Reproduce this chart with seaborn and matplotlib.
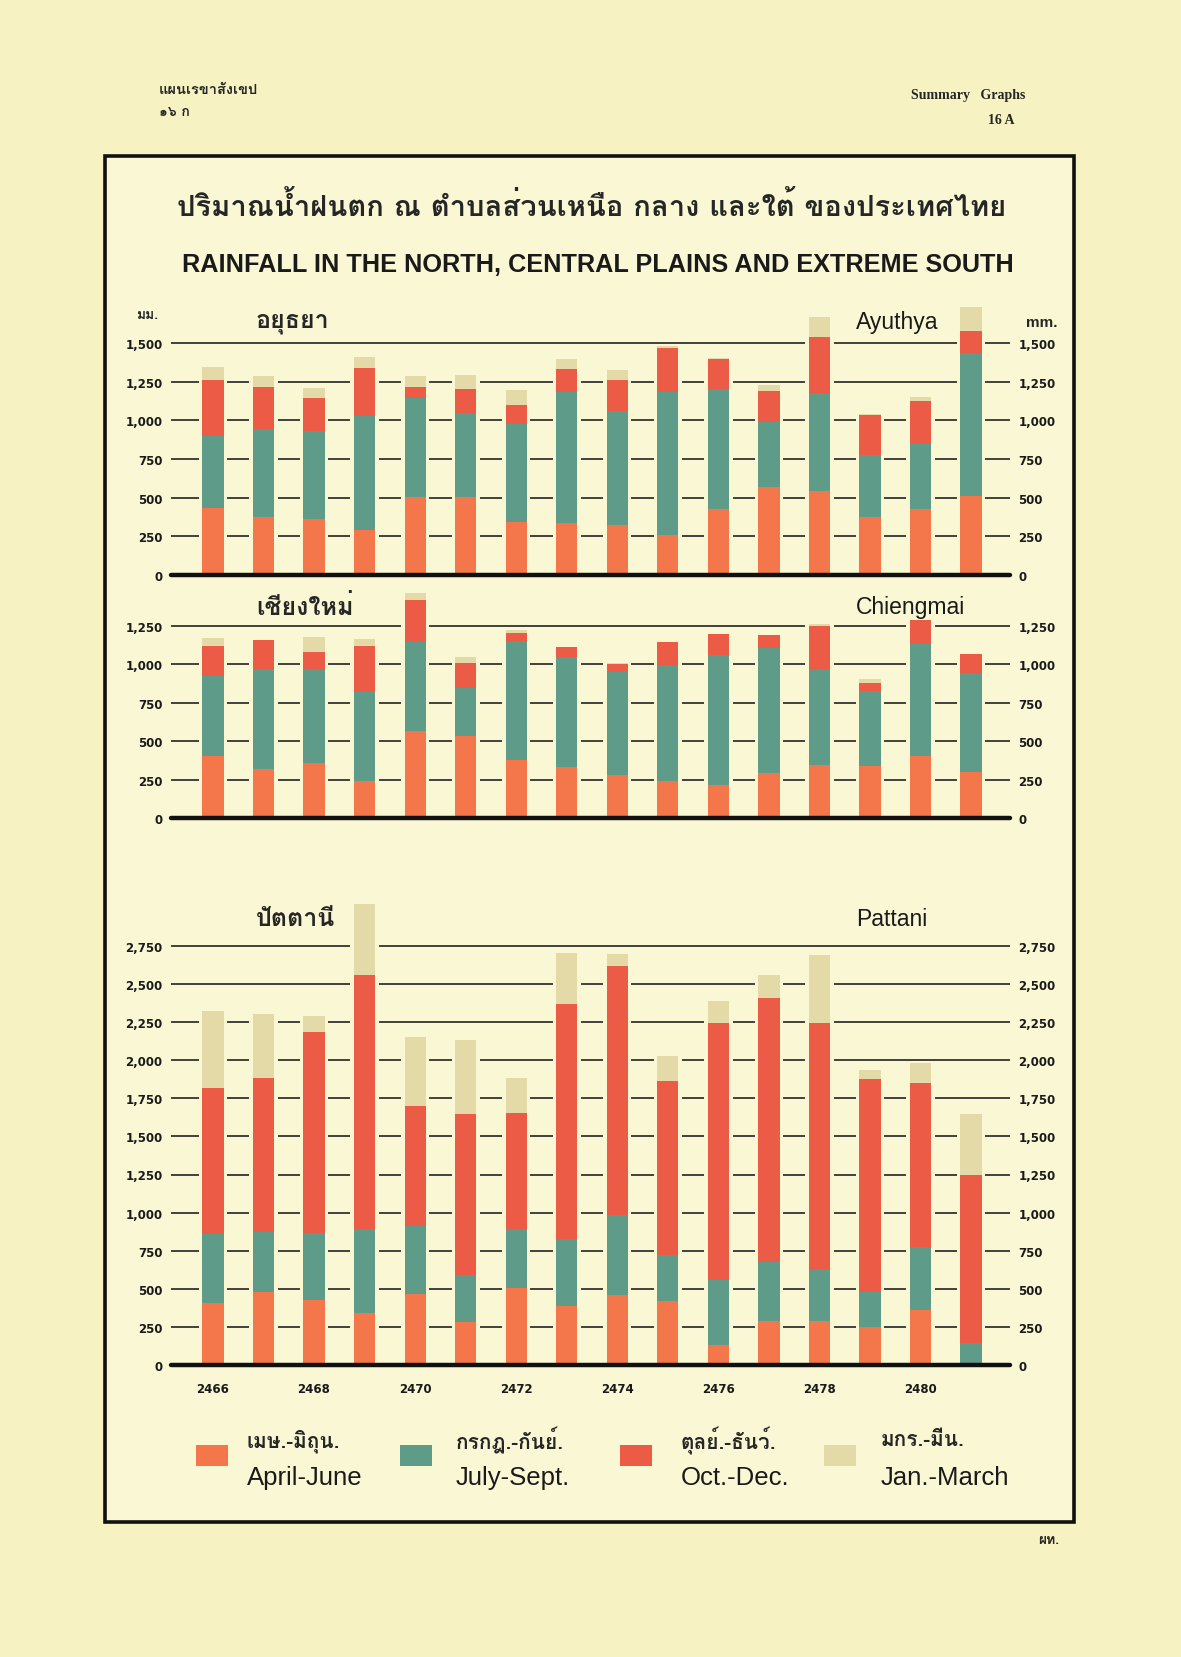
import numpy as np
import matplotlib
matplotlib.use('Agg')
import matplotlib.pyplot as plt
import seaborn as sns
from matplotlib import font_manager
from matplotlib.ft2font import FT2Font
from matplotlib.patches import Rectangle

# ---- data (mm of rain per season) ----
years = [str(y) for y in range(2466, 2482)]
year_labels = [y if i % 2 == 0 else '' for i, y in enumerate(years)]

season_th = ['เมษ.-มิถุน.', 'กรกฎ.-กันย์.', 'ตุลย์.-ธันว์.', 'มกร.-มีน.']
season_en = ['April-June', 'July-Sept.', 'Oct.-Dec.', 'Jan.-March']
season_colors = ['#F3774A', '#5E9B88', '#EC5B45', '#E4DAA8']

ayuthya_apr_jun = [430, 376, 359, 294, 501, 505, 340, 333, 320, 261, 428, 568, 546, 378, 428, 510]
ayuthya_jul_sep = [468, 570, 569, 733, 642, 544, 633, 849, 739, 923, 773, 421, 631, 400, 417, 926]
ayuthya_oct_dec = [363, 272, 215, 310, 75, 154, 127, 150, 201, 285, 194, 199, 363, 259, 280, 141]
ayuthya_jan_mar = [86, 71, 65, 71, 71, 91, 99, 65, 68, 13, 5, 39, 130, 3, 26, 157]

chiengmai_apr_jun = [402, 320, 357, 240, 565, 536, 379, 331, 283, 243, 217, 293, 348, 341, 402, 298]
chiengmai_jul_sep = [524, 649, 612, 578, 581, 308, 774, 718, 667, 753, 844, 816, 619, 485, 733, 648]
chiengmai_oct_dec = [194, 190, 113, 302, 271, 162, 54, 65, 50, 152, 135, 80, 283, 50, 154, 124]
chiengmai_jan_mar = [55, 0, 99, 48, 50, 45, 18, 0, 11, 0, 0, 0, 11, 31, 0, 0]

pattani_apr_jun = [404, 476, 428, 338, 465, 279, 502, 389, 461, 421, 131, 290, 286, 247, 360, 0]
pattani_jul_sep = [456, 396, 440, 552, 446, 314, 388, 441, 523, 300, 430, 383, 344, 233, 414, 142]
pattani_oct_dec = [960, 1009, 1317, 1667, 788, 1051, 765, 1537, 1632, 1142, 1685, 1738, 1614, 1398, 1076, 1106]
pattani_jan_mar = [503, 425, 105, 467, 456, 489, 226, 339, 84, 164, 143, 151, 449, 55, 131, 400]

W, H = 1181, 1658
page_bg = '#F7F2C2'
frame_bg = '#FAF7D4'


def find_thai_font():
    # first installed family that actually has Thai glyphs
    for f in font_manager.fontManager.ttflist:
        try:
            if 0x0E01 in FT2Font(f.fname).get_charmap():
                return f.name
        except Exception:
            pass
    return 'DejaVu Sans'


sns.set_theme(style='white')
thai = find_thai_font()
plt.rcParams['font.family'] = ['DejaVu Sans', thai]
TH = [thai, 'DejaVu Sans']
EN = ['Liberation Sans', 'DejaVu Sans']


def box(l, t, r, b):
    return [l / W, 1 - b / H, (r - l) / W, (b - t) / H]


def ftext(x, y, s, **kw):
    fig.text(x / W, 1 - y / H, s, **kw)


def draw_panel(ax, parts, ymax, top_tick, show_years=False):
    cum = np.cumsum(np.array(parts), axis=0)
    # light halo so the grid lines break around each bar, like the print
    sns.barplot(x=years, y=cum[-1] + 6, color=frame_bg, width=0.56, saturation=1,
                errorbar=None, ax=ax, zorder=1.5, linewidth=0)
    for i in range(3, -1, -1):
        sns.barplot(x=years, y=cum[i], color=season_colors[i], width=0.42, saturation=1,
                    errorbar=None, ax=ax, zorder=2, linewidth=0)
    ax.set_facecolor('none')
    ax.set_xlim(-0.83, 15.77)
    ax.set_ylim(0, ymax)
    ticks = list(range(0, top_tick + 1, 250))
    ax.set_yticks(ticks)
    ax.set_yticklabels([f'{t:,}' for t in ticks], fontsize=8.5, fontweight='bold', color='#1a1a1a')
    ax.tick_params(axis='y', left=False, right=False, labelleft=True, labelright=True,
                   length=0, pad=6)
    ax.yaxis.grid(True, color='#222222', lw=1.2)
    ax.xaxis.grid(False)
    ax.set_axisbelow(True)
    ax.axhline(0, color='#111111', lw=3.2, zorder=5, clip_on=False)
    for s in ax.spines.values():
        s.set_visible(False)
    ax.set_xlabel('')
    ax.set_ylabel('')
    if show_years:
        ax.set_xticks(range(len(years)))
        ax.set_xticklabels(year_labels, fontsize=8.5, fontweight='bold', color='#1a1a1a')
        ax.tick_params(axis='x', bottom=False, length=0, pad=12)
    else:
        ax.set_xticks([])


fig = plt.figure(figsize=(W / 100, H / 100), dpi=100, facecolor=page_bg)

# frame, kept under the axes
fig.patches.append(Rectangle((105 / W, 1 - 1523 / H), (1074 - 105) / W, (1523 - 157) / H,
                             transform=fig.transFigure, facecolor=frame_bg,
                             edgecolor='#111111', lw=2.6, zorder=-5))

ax1 = fig.add_axes(box(171, 576 - 1800 * 0.1547, 1010, 576))
ax2 = fig.add_axes(box(171, 819 - 1480 * 0.1536, 1010, 819))
ax3 = fig.add_axes(box(171, 1366 - 3100 * 0.1524, 1010, 1366))

draw_panel(ax1, [ayuthya_apr_jun, ayuthya_jul_sep, ayuthya_oct_dec, ayuthya_jan_mar], 1800, 1500)
draw_panel(ax2, [chiengmai_apr_jun, chiengmai_jul_sep, chiengmai_oct_dec, chiengmai_jan_mar], 1480, 1250)
draw_panel(ax3, [pattani_apr_jun, pattani_jul_sep, pattani_oct_dec, pattani_jan_mar], 3100, 2750,
           show_years=True)

# header
ftext(159, 90, 'แผนเรขาสังเขป', family=TH, fontsize=10.5, fontweight='bold', va='center')
ftext(159, 113, '๑๖ ก', family=TH, fontsize=10, fontweight='bold', va='center')
ftext(1025, 96, 'Summary   Graphs', family=['Liberation Serif', 'DejaVu Serif'], fontsize=10,
      fontweight='bold', ha='right', va='center')
ftext(1015, 120, '16 A', family=['Liberation Serif', 'DejaVu Serif'], fontsize=10,
      fontweight='bold', ha='right', va='center')

# titles
ftext(592, 207, 'ปริมาณน้ำฝนตก ณ ตำบลส่วนเหนือ กลาง และใต้ ของประเทศไทย', family=TH,
      fontsize=21, fontweight='bold', ha='center', va='center')
ftext(598, 265, 'RAINFALL IN THE NORTH, CENTRAL PLAINS AND EXTREME SOUTH', family=EN,
      fontsize=18.2, fontweight='bold', ha='center', va='center', color='#1a1a1a')

# panel names
ftext(136, 316, 'มม.', family=TH, fontsize=10, fontweight='bold', va='center')
ftext(1026, 323, 'mm.', family=EN, fontsize=11, fontweight='bold', va='center')
names = [('อยุธยา', 'Ayuthya', 323), ('เชียงใหม่', 'Chiengmai', 608), ('ปัตตานี', 'Pattani', 920)]
for th_name, en_name, y in names:
    ftext(256, y, th_name, family=TH, fontsize=18, fontweight='bold', va='center')
    ftext(856, y, en_name, family=EN, fontsize=16.5, va='center', color='#1a1a1a')

# legend
patch_x = [196, 400, 620, 824]
text_x = [247, 456, 681, 881]
for i in range(4):
    fig.patches.append(Rectangle((patch_x[i] / W, 1 - 1467 / H), 32 / W, 21 / H,
                                 transform=fig.transFigure, facecolor=season_colors[i],
                                 edgecolor='none', zorder=3))
    ftext(text_x[i], 1441, season_th[i], family=TH, fontsize=15, fontweight='bold', va='center')
    ftext(text_x[i], 1478, season_en[i], family=EN, fontsize=18.5, va='center', color='#1a1a1a')

ftext(1059, 1541, 'ผท.', family=TH, fontsize=10, fontweight='bold', ha='right', va='center')

fig.savefig('out.png', dpi=100, facecolor=page_bg)
